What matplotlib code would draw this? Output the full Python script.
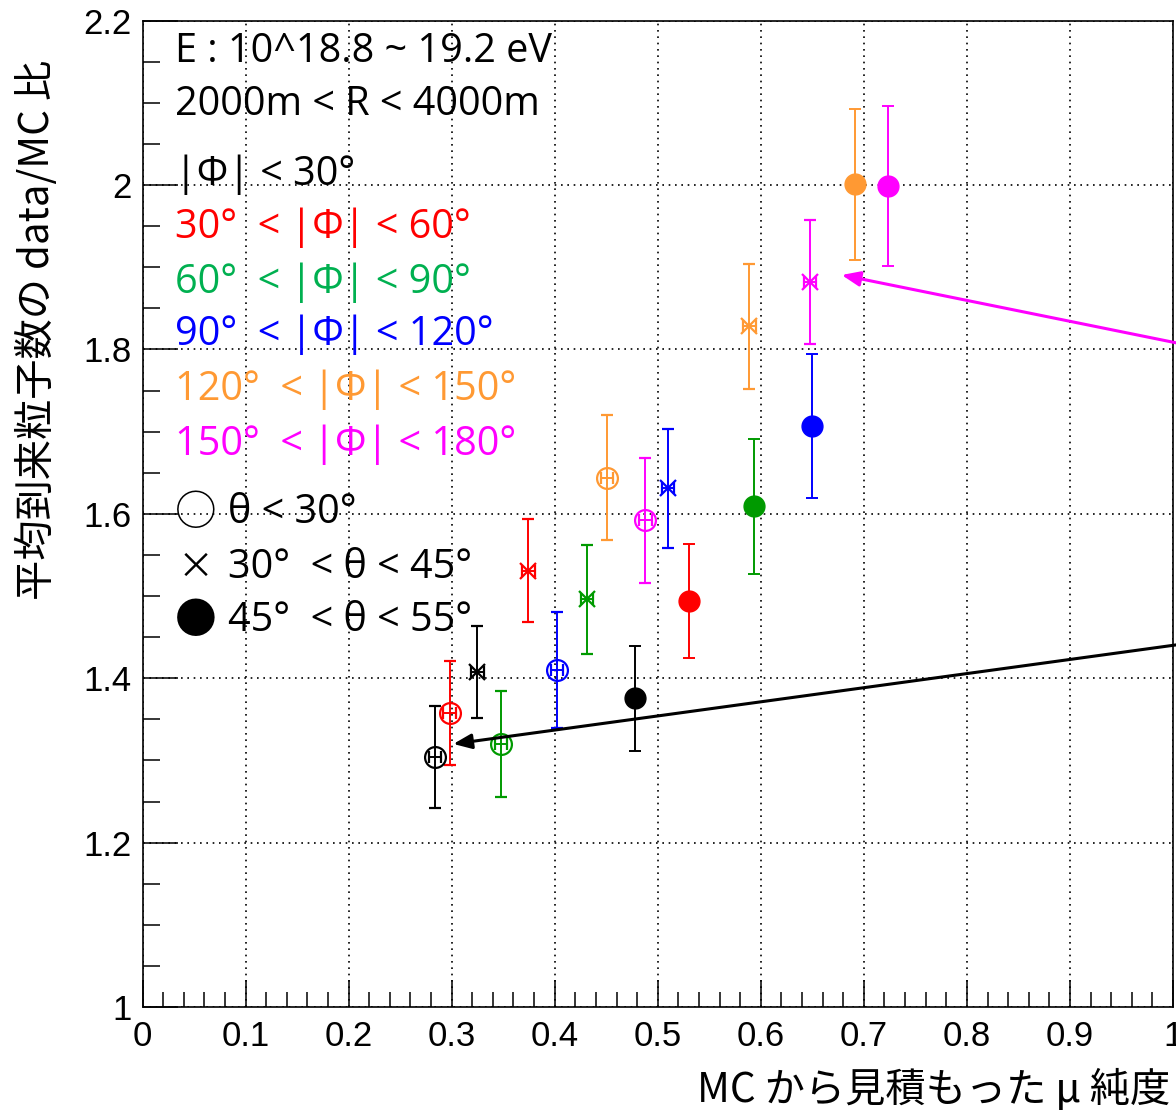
import matplotlib.pyplot as plt
import numpy as np

# phi bins -> colours, theta bins -> marker style
phi_colors = ["black", "#ff0000", "#009a00", "#0000ff", "#ff9933", "#ff00ff"]
text_colors = ["black", "#ff0000", "#00b050", "#0000ff", "#ff9933", "#ff00ff"]

# theta < 30 (open circles)
x_open = [0.284, 0.298, 0.348, 0.402, 0.4505, 0.488]
y_open = [1.304, 1.358, 1.320, 1.410, 1.644, 1.592]
e_open = [0.062, 0.063, 0.065, 0.071, 0.076, 0.076]

# 30 < theta < 45 (crosses)
x_cross = [0.325, 0.3744, 0.4316, 0.5097, 0.589, 0.6478]
y_cross = [1.408, 1.531, 1.496, 1.631, 1.828, 1.882]
e_cross = [0.056, 0.063, 0.066, 0.072, 0.076, 0.076]

# 45 < theta < 55 (filled circles)
x_fill = [0.478, 0.530, 0.593, 0.6497, 0.6914, 0.7231]
y_fill = [1.3755, 1.494, 1.609, 1.707, 2.001, 1.999]
e_fill = [0.064, 0.069, 0.082, 0.088, 0.092, 0.097]

info_lines = ["E : 10^18.8 ~ 19.2 eV", "2000m < R < 4000m"]
phi_labels = ["|Φ| < 30°", "30°  < |Φ| < 60°", "60°  < |Φ| < 90°",
              "90°  < |Φ| < 120°", "120°  < |Φ| < 150°", "150°  < |Φ| < 180°"]
theta_symbols = ["○", "×", "●"]
theta_labels = ["θ < 30°", "30°  < θ < 45°", "45°  < θ < 55°"]

jp = "Noto Sans CJK JP"
leg_font = ["Open Sans", "Noto Sans CJK JP"]
W, H = 1176, 1114
fig = plt.figure(figsize=(W / 100, H / 100), dpi=100)
ax = fig.add_axes([142.5 / W, 1 - 1007 / H, 1030.5 / W, 986.4 / H])

ax.set_xlim(0, 1)
ax.set_ylim(1, 2.2)
ax.set_xticks(np.arange(0, 1.01, 0.1))
ax.set_xticks(np.arange(0, 1.001, 0.02), minor=True)
ax.set_yticks(np.arange(1, 2.21, 0.2))
ax.set_yticks(np.arange(1, 2.201, 0.05), minor=True)
ax.set_xticklabels(["0", "0.1", "0.2", "0.3", "0.4", "0.5", "0.6", "0.7", "0.8", "0.9", "1"])
ax.set_yticklabels(["1", "1.2", "1.4", "1.6", "1.8", "2", "2.2"])
ax.tick_params(which="both", direction="in", width=1.1, labelsize=25)
ax.tick_params(axis="x", which="major", length=19.5, pad=9)
ax.tick_params(axis="x", which="minor", length=11)
ax.tick_params(axis="y", which="major", length=25, pad=8)
ax.tick_params(axis="y", which="minor", length=12)
for lab in ax.get_xticklabels() + ax.get_yticklabels():
    lab.set_fontfamily("Liberation Sans")
for sp in ax.spines.values():
    sp.set_linewidth(1.2)
ax.grid(True, which="major", color="black", lw=1.2, ls=(0, (1, 2.8)))
ax.set_axisbelow(True)

for i, c in enumerate(phi_colors):
    ax.errorbar(x_open[i], y_open[i], yerr=e_open[i], xerr=0.006, fmt="o",
                mfc="none", mec=c, mew=1.6, ms=15, color=c, elinewidth=1.4,
                capsize=4, capthick=1.4)
    ax.errorbar(x_cross[i], y_cross[i], yerr=e_cross[i], xerr=0.006, fmt="x",
                mec=c, mew=1.6, ms=12, color=c, elinewidth=1.4,
                capsize=4, capthick=1.4)
    ax.errorbar(x_fill[i], y_fill[i], yerr=e_fill[i], fmt="o",
                mfc=c, mec=c, ms=15, color=c, elinewidth=1.4,
                capsize=4, capthick=1.4)

# arrows pointing at the lowest and highest groups
ax.annotate("", xy=(0.6785, 1.8905), xytext=(1.003, 1.808),
            arrowprops=dict(arrowstyle="-|>,head_length=1.1,head_width=0.45",
                            color="#ff00ff", lw=2.2, shrinkA=0, shrinkB=0),
            annotation_clip=False)
ax.annotate("", xy=(0.3016, 1.320), xytext=(1.003, 1.4405),
            arrowprops=dict(arrowstyle="-|>,head_length=1.1,head_width=0.45",
                            color="black", lw=2.2, shrinkA=0, shrinkB=0),
            annotation_clip=False)

# text block in the upper left
fs = 28.5
tx = 175 / W
rows = [52, 105]
for s, yp in zip(info_lines, rows):
    fig.text(tx, 1 - yp / H, s, fontsize=fs, family=leg_font, va="center", color="black")
rows = [175, 228, 283, 335, 390, 445]
for s, c, yp in zip(phi_labels, text_colors, rows):
    fig.text(tx, 1 - yp / H, s, fontsize=fs, family=leg_font, va="center", color=c)
rows = [513, 568, 621]
sym_sizes = [30, 26, 30]
for sym, sz, s, yp in zip(theta_symbols, sym_sizes, theta_labels, rows):
    fig.text(196 / W, 1 - yp / H, sym, fontsize=sz, family=jp, ha="center",
             va="center", color="black")
    fig.text(228 / W, 1 - yp / H, s, fontsize=fs, family=leg_font, va="center",
             color="black")

fig.text(37 / W, 1 - 330 / H, "平均到来粒子数の data/MC 比", rotation=90,
         fontsize=29, family=jp, ha="center", va="center")
fig.text(1170 / W, 1 - 1090 / H, "MC から見積もった μ 純度",
         fontsize=29, family=jp, ha="right", va="center")

fig.savefig("out.png", dpi=100)
